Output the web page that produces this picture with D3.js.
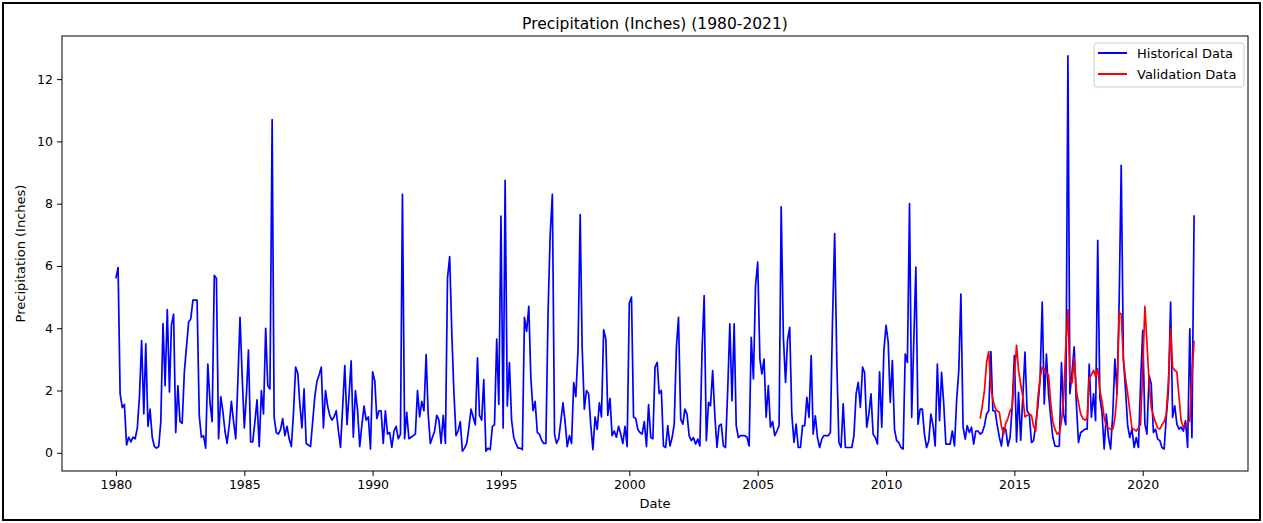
<!DOCTYPE html>
<html>
<head>
<meta charset="utf-8">
<script src="https://cdn.jsdelivr.net/npm/d3@7"></script>
<style>
  html, body { margin: 0; padding: 0; background: #fff; }
  svg { display: block; font-family: "DejaVu Sans", sans-serif; }
</style>
</head>
<body>
<svg id="chart" width="1263" height="523"></svg>
<script>
// monthly precipitation, Jan 1980 .. Jan 2022 (one row per year)
const historical = [
  5.6, 5.95, 1.9, 1.45, 1.55, 0.25, 0.5, 0.35, 0.5, 0.45, 0.8, 1.8,
  3.6, 1.25, 3.5, 0.85, 1.4, 0.5, 0.2, 0.15, 0.2, 1.0, 4.15, 2.15,
  4.6, 1.95, 4.1, 4.45, 0.65, 2.15, 1.0, 0.95, 2.6, 3.4, 4.2, 4.3,
  4.9, 4.9, 4.9, 1.2, 0.5, 0.55, 0.15, 2.85, 1.6, 1.0, 5.7, 5.6,
  0.45, 1.8, 1.35, 0.7, 0.3, 0.9, 1.65, 1.0, 0.45, 2.3, 4.35, 2.5,
  0.8, 1.9, 3.3, 0.35, 0.35, 1.0, 1.7, 0.2, 2.0, 1.25, 4.0, 2.15,
  2.05, 10.7, 1.15, 0.65, 0.6, 0.75, 1.1, 0.55, 0.85, 0.45, 0.2, 1.25,
  2.75, 2.55, 1.6, 0.8, 2.05, 0.3, 0.25, 0.2, 1.0, 1.8, 2.3, 2.5,
  2.75, 0.8, 2.0, 1.5, 1.2, 1.05, 1.15, 1.35, 0.7, 0.17, 1.5, 2.8,
  0.9, 1.9, 2.95, 0.5, 2.0, 1.35, 0.2, 0.9, 1.5, 1.05, 1.15, 0.12,
  2.6, 2.3, 1.1, 1.35, 1.35, 0.3, 1.35, 0.6, 0.65, 0.17, 0.7, 0.85,
  0.45, 0.6, 8.3, 0.45, 1.3, 0.45, 0.5, 0.55, 0.6, 2.0, 1.15, 1.65,
  1.35, 3.15, 1.25, 0.3, 0.5, 0.7, 1.2, 1.05, 0.3, 1.2, 0.3, 5.6,
  6.3, 3.8, 2.0, 0.55, 0.7, 1.0, 0.05, 0.15, 0.3, 0.8, 1.4, 1.15,
  0.9, 3.05, 1.2, 1.05, 2.35, 0.05, 0.15, 0.1, 0.85, 0.9, 3.65, 1.55,
  7.6, 0.8, 8.75, 1.5, 2.9, 1.05, 0.5, 0.3, 0.15, 0.15, 0.1, 4.35,
  3.9, 4.7, 2.4, 1.35, 1.65, 0.65, 0.6, 0.4, 0.3, 0.3, 4.5, 7.0,
  8.3, 0.6, 0.3, 0.45, 1.0, 1.6, 1.0, 0.2, 0.55, 0.3, 2.25, 1.8,
  3.3, 7.65, 3.4, 1.4, 2.0, 1.9, 0.9, 0.1, 1.15, 0.75, 1.6, 1.15,
  3.95, 3.65, 1.2, 1.75, 0.55, 0.7, 0.5, 0.85, 0.6, 0.3, 0.85, 0.2,
  4.8, 5.0, 1.15, 1.1, 0.75, 0.65, 0.6, 1.0, 0.2, 1.55, 0.5, 0.45,
  2.75, 2.9, 1.9, 2.0, 0.22, 0.17, 0.87, 0.22, 0.49, 0.92, 3.39, 4.35,
  1.08, 0.92, 1.4, 1.24, 0.55, 0.39, 0.49, 0.28, 0.44, 0.22, 3.28, 5.05,
  0.39, 1.62, 1.51, 2.64, 1.24, 0.17, 0.87, 0.92, 0.22, 0.17, 2.0, 4.14,
  1.67, 4.14, 0.87, 0.49, 0.55, 0.55, 0.55, 0.5, 0.22, 3.71, 2.37, 5.37,
  6.12, 3.01, 2.53, 3.01, 1.14, 2.16, 0.82, 1.0, 0.55, 0.7, 0.87, 7.9,
  3.71, 2.26, 3.6, 4.03, 1.24, 0.33, 0.92, 0.17, 0.17, 0.87, 0.87, 1.78,
  1.14, 3.12, 0.6, 1.19, 0.49, 0.17, 0.44, 0.55, 0.55, 0.55, 0.65, 4.25,
  7.04, 2.85, 0.33, 0.17, 1.57, 0.17, 0.17, 0.17, 0.17, 0.55, 1.89, 2.26,
  1.46, 2.75, 2.58, 0.82, 1.24, 1.89, 0.6, 0.49, 0.28, 2.6, 0.82, 3.28,
  4.09, 3.55, 1.62, 2.96, 0.76, 0.39, 0.33, 0.17, 0.12, 3.17, 2.9, 8.0,
  1.14, 3.71, 5.96, 0.92, 1.4, 1.4, 0.6, 0.17, 0.39, 1.24, 0.87, 0.22,
  2.85, 1.03, 2.58, 1.57, 0.28, 0.28, 0.28, 0.7, 0.22, 1.67, 2.64, 5.1,
  0.82, 0.44, 0.87, 0.65, 0.82, 0.28, 0.7, 0.7, 0.6, 0.65, 0.87, 1.24,
  1.35, 3.25, 1.35, 1.35, 0.9, 0.5, 0.22, 0.8, 0.75, 0.22, 0.5, 1.5,
  3.12, 0.35, 1.94, 0.4, 1.8, 3.23, 1.35, 1.24, 0.33, 0.39, 0.92, 1.5,
  2.32, 4.84, 1.57, 3.17, 1.89, 1.14, 0.5, 0.22, 0.2, 0.22, 2.9, 1.24,
  0.9, 12.75, 1.9, 2.6, 3.4, 1.57, 0.33, 0.65, 0.7, 0.76, 0.76, 2.85,
  1.14, 1.89, 1.03, 6.82, 1.78, 1.3, 0.12, 1.24, 0.49, 0.12, 1.24, 3.01,
  1.89, 5.0, 9.23, 3.01, 2.05, 0.87, 0.49, 0.76, 0.17, 0.49, 0.17, 2.21,
  3.93, 0.92, 0.6, 2.48, 2.21, 0.65, 0.76, 0.44, 0.39, 0.17, 0.12, 1.14,
  2.0, 4.84, 1.14, 1.51, 0.92, 0.76, 0.82, 0.7, 1.03, 0.17, 3.98, 0.49,
  7.63
];

// validation series, Sep 2013 .. Jan 2022
const validationStart = 404;
const validation = [
  1.1, 1.5, 2.0, 2.9,
  3.25, 2.1, 1.7, 1.45, 1.35, 1.3, 0.85, 0.6, 0.95, 1.1, 1.35, 1.45,
  2.5, 3.45, 2.65, 2.2, 1.8, 1.15, 1.2, 1.25, 1.2, 0.85, 0.7, 1.75,
  2.4, 2.75, 2.7, 2.55, 2.5, 1.6, 1.0, 0.75, 0.6, 0.65, 1.0, 1.7,
  3.4, 4.6, 2.3, 2.25, 3.05, 2.0, 1.6, 1.25, 1.1, 1.05, 1.1, 2.4,
  2.5, 2.65, 2.45, 2.7, 2.0, 1.65, 1.15, 0.85, 0.8, 0.75, 0.75, 1.1,
  1.9, 4.5, 4.45, 3.0, 2.4, 1.9, 1.35, 0.8, 0.75, 0.7, 0.8, 0.9,
  2.65, 4.7, 3.55, 2.25, 1.45, 1.2, 0.98, 0.8, 0.76, 0.9, 1.0, 1.24,
  2.3, 3.98, 2.75, 2.64, 2.6, 1.78, 1.03, 0.82, 0.9, 0.95, 1.03, 2.42,
  3.6
];

const yTicks = [0, 2, 4, 6, 8, 10, 12];
const xTickYears = [1980, 1985, 1990, 1995, 2000, 2005, 2010, 2015, 2020];

const width = 1263;
const height = 523;
const margin = { left: 62, right: 15, top: 36, bottom: 52 };
const plotRight = width - margin.right;
const plotBottom = height - margin.bottom;

const start = new Date(1980, 0, 1);
const monthDate = i => d3.timeMonth.offset(start, i);

const histData = historical.map((v, i) => ({ date: monthDate(i), value: v }));
const valData = validation.map((v, i) => ({ date: monthDate(validationStart + i), value: v }));

const svg = d3.select("#chart");

// outer frame of the figure
svg.append("rect")
  .attr("x", 3).attr("y", 3)
  .attr("width", width - 6).attr("height", height - 6)
  .attr("fill", "none")
  .attr("stroke", "#000")
  .attr("stroke-width", 2);

// 5% padding like matplotlib
const tExtent = d3.extent(histData, d => d.date);
const tSpan = tExtent[1] - tExtent[0];
const xScale = d3.scaleTime()
  .domain([new Date(+tExtent[0] - tSpan * 0.05), new Date(+tExtent[1] + tSpan * 0.05)])
  .range([margin.left, plotRight]);

const allValues = historical.concat(validation);
const vMin = d3.min(allValues), vMax = d3.max(allValues);
const vSpan = vMax - vMin;
const yScale = d3.scaleLinear()
  .domain([vMin - vSpan * 0.05, vMax + vSpan * 0.05])
  .range([plotBottom, margin.top]);

svg.append("clipPath").attr("id", "plot-clip")
  .append("rect")
  .attr("x", margin.left).attr("y", margin.top)
  .attr("width", plotRight - margin.left).attr("height", plotBottom - margin.top);

const line = d3.line()
  .x(d => xScale(d.date))
  .y(d => yScale(d.value));

const lines = svg.append("g").attr("clip-path", "url(#plot-clip)");

lines.append("path")
  .datum(histData)
  .attr("d", line)
  .attr("fill", "none")
  .attr("stroke", "#0000ff")
  .attr("stroke-width", 1.7)
  .attr("stroke-linejoin", "round");

lines.append("path")
  .datum(valData)
  .attr("d", line)
  .attr("fill", "none")
  .attr("stroke", "#ff0000")
  .attr("stroke-width", 1.7)
  .attr("stroke-linejoin", "round");

// Axes
const xAxis = d3.axisBottom(xScale)
  .tickValues(xTickYears.map(y => new Date(y, 0, 1)))
  .tickFormat(d3.timeFormat("%Y"))
  .tickSize(5)
  .tickSizeOuter(0)
  .tickPadding(4);

const yAxis = d3.axisLeft(yScale)
  .tickValues(yTicks)
  .tickFormat(d3.format("d"))
  .tickSize(5)
  .tickSizeOuter(0)
  .tickPadding(4);

const gx = svg.append("g")
  .attr("transform", `translate(0, ${plotBottom})`)
  .call(xAxis);
const gy = svg.append("g")
  .attr("transform", `translate(${margin.left}, 0)`)
  .call(yAxis);

[gx, gy].forEach(g => {
  g.select(".domain").remove();
  g.selectAll("line").attr("stroke", "#000").attr("stroke-width", 1);
  g.selectAll("text")
    .attr("fill", "#000")
    .style("font-family", "DejaVu Sans, sans-serif")
    .style("font-size", "12.5px");
});

// axes box
svg.append("rect")
  .attr("x", margin.left).attr("y", margin.top)
  .attr("width", plotRight - margin.left).attr("height", plotBottom - margin.top)
  .attr("fill", "none")
  .attr("stroke", "#000")
  .attr("stroke-width", 1);

// Title and labels
const cx = (margin.left + plotRight) / 2;
svg.append("text")
  .attr("x", cx).attr("y", 29)
  .attr("text-anchor", "middle")
  .style("font-size", "15.5px")
  .text("Precipitation (Inches) (1980-2021)");

svg.append("text")
  .attr("x", cx).attr("y", 508)
  .attr("text-anchor", "middle")
  .style("font-size", "13px")
  .text("Date");

svg.append("text")
  .attr("transform", `translate(25, ${(margin.top + plotBottom) / 2}) rotate(-90)`)
  .attr("text-anchor", "middle")
  .style("font-size", "13px")
  .text("Precipitation (Inches)");

// Legend
const legendItems = [
  { label: "Historical Data", color: "#0000ff" },
  { label: "Validation Data", color: "#ff0000" }
];
const legend = svg.append("g").attr("transform", "translate(1094, 43)");
legend.append("rect")
  .attr("width", 150).attr("height", 44)
  .attr("rx", 3)
  .attr("fill", "#fff").attr("fill-opacity", 0.8)
  .attr("stroke", "#cccccc");

legendItems.forEach((d, i) => {
  const yy = 10 + i * 21;
  legend.append("line")
    .attr("x1", 4).attr("x2", 33)
    .attr("y1", yy).attr("y2", yy)
    .attr("stroke", d.color)
    .attr("stroke-width", 2);
  legend.append("text")
    .attr("x", 43).attr("y", yy)
    .attr("dy", "0.35em")
    .style("font-size", "13px")
    .text(d.label);
});
</script>
</body>
</html>
